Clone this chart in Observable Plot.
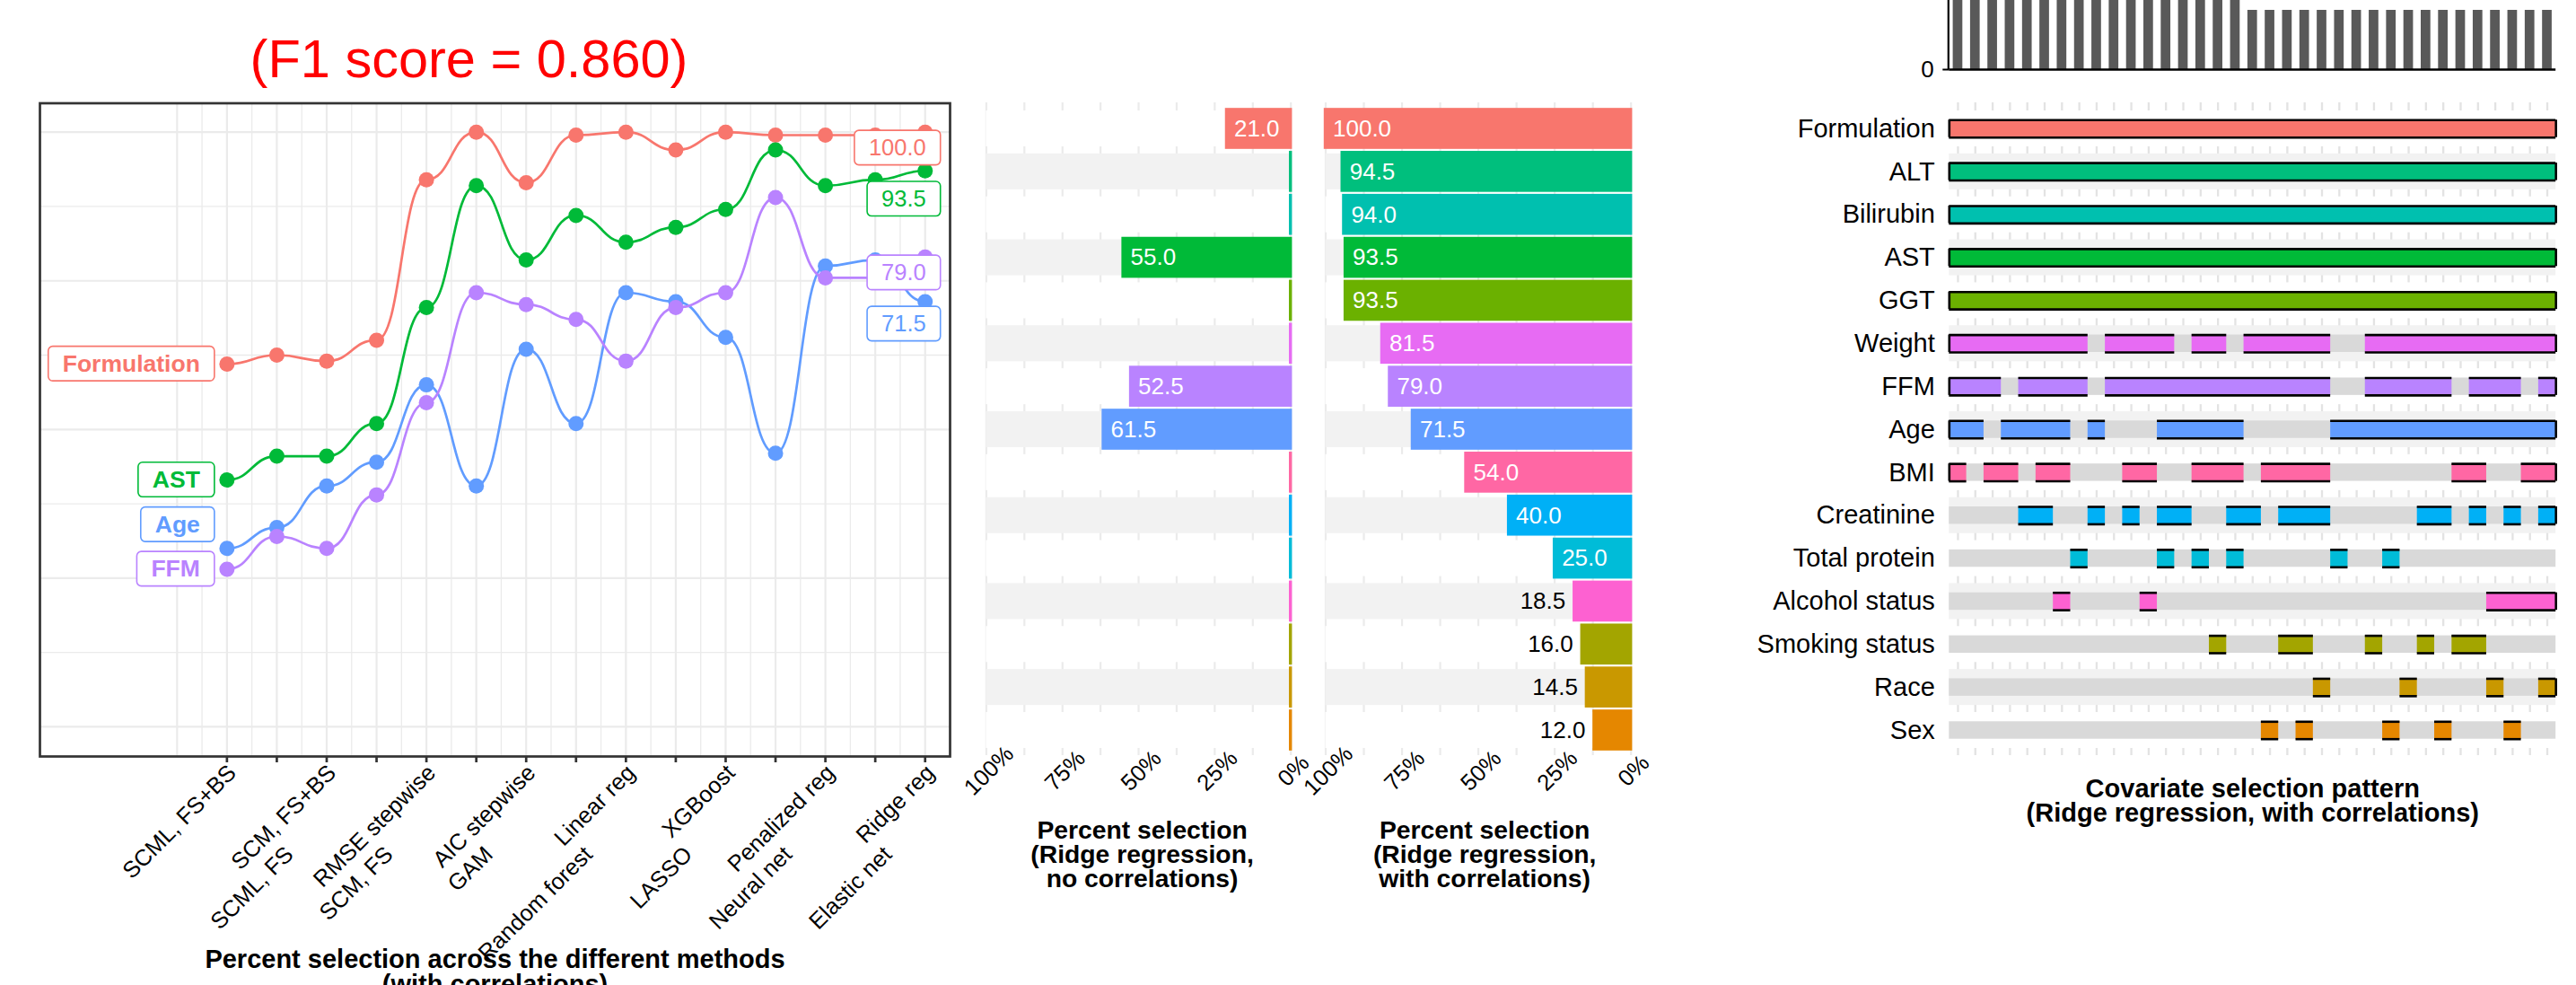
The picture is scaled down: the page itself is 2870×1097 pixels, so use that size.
<!DOCTYPE html>
<html>
<head>
<meta charset="utf-8">
<script src="https://cdn.jsdelivr.net/npm/d3@7"></script>
<script src="https://cdn.jsdelivr.net/npm/@observablehq/plot@0.6"></script>
<style>
  html, body { margin: 0; padding: 0; background: #fff; }
  #fig { position: relative; width: 2870px; height: 1097px; overflow: hidden; background: #fff; }
  #fig > div { position: absolute; top: 0; }
  #fig svg { overflow: visible; }
</style>
</head>
<body>
<div id="fig"></div>
<script>
const FONT = "'Liberation Sans', Arial, Helvetica, sans-serif";

// ---- Percent selection across methods (with correlations) ----
const methods = ["SCML, FS+BS", "SCML, FS", "SCM, FS+BS", "SCM, FS", "RMSE stepwise", "GAM",
  "AIC stepwise", "Random forest", "Linear reg", "LASSO", "XGBoost", "Neural net",
  "Penalized reg", "Elastic net", "Ridge reg"];
const selFormulation = [61.0, 62.5, 61.5, 65.0, 92.0, 100.0, 91.5, 99.5, 100.0, 97.0, 100.0, 99.5, 99.5, 99.5, 100.0];
const selAST         = [41.5, 45.5, 45.5, 51.0, 70.5, 91.0, 78.5, 86.0, 81.5, 84.0, 87.0, 97.0, 91.0, 92.0, 93.5];
const selAge         = [30.0, 33.5, 40.5, 44.5, 57.5, 40.5, 63.5, 51.0, 73.0, 71.5, 65.5, 46.0, 77.5, 78.5, 71.5];
const selFFM         = [26.5, 32.0, 30.0, 39.0, 54.5, 73.0, 71.0, 68.5, 61.5, 70.5, 73.0, 89.0, 75.5, 75.5, 79.0];
const f1Score = 0.860;

// ---- Ridge regression percent selection per covariate ----
const covariates = ["Formulation", "ALT", "Bilirubin", "AST", "GGT", "Weight", "FFM", "Age", "BMI",
  "Creatinine", "Total protein", "Alcohol status", "Smoking status", "Race", "Sex"];
const ridgeNoCorr   = [21.0, 0, 0, 55.0, 0, 0, 52.5, 61.5, 0, 0, 0, 0, 0, 0, 0];
const ridgeWithCorr = [100.0, 94.5, 94.0, 93.5, 93.5, 81.5, 79.0, 71.5, 54.0, 40.0, 25.0, 18.5, 16.0, 14.5, 12.0];

// ---- Covariate selection pattern: runs of selected patterns (1..35) per covariate ----
const patternRuns = [
  [[1, 35]],
  [[1, 35]],
  [[1, 35]],
  [[1, 35]],
  [[1, 35]],
  [[1, 8], [10, 13], [15, 16], [18, 22], [25, 35]],
  [[1, 3], [5, 8], [10, 22], [25, 29], [31, 33], [35, 35]],
  [[1, 2], [4, 7], [9, 9], [13, 17], [23, 35]],
  [[1, 1], [3, 4], [6, 7], [11, 12], [15, 17], [19, 22], [30, 31], [34, 35]],
  [[5, 6], [9, 9], [11, 11], [13, 14], [17, 18], [20, 22], [28, 29], [31, 31], [33, 33], [35, 35]],
  [[8, 8], [13, 13], [15, 15], [17, 17], [23, 23], [26, 26]],
  [[7, 7], [12, 12], [32, 35]],
  [[16, 16], [20, 21], [25, 25], [28, 28], [30, 31]],
  [[22, 22], [27, 27], [32, 32], [35, 35]],
  [[19, 19], [21, 21], [26, 26], [29, 29], [33, 33]]
];
// frequency of each of the 35 selection patterns
const patternCounts = [
  6, 6, 6, 6, 6, 6, 6, 6, 6, 6, 6, 6, 6, 6, 6, 6, 6,
  5, 5, 5, 5, 5, 5, 5, 5, 5, 5, 5, 5, 5, 5, 5, 5, 5, 5
];

// ggplot-style hue palette, one colour per covariate
const palette = ["#F8766D", "#00BF7D", "#00C0AF", "#00BA38", "#6BB100", "#E76BF3", "#B983FF", "#619CFF",
  "#FF67A4", "#00B0F6", "#00BCD8", "#FD61D1", "#A3A500", "#C99800", "#E58700"];
const colorOf = new Map(covariates.map((c, k) => [c, palette[k]]));

const fig = document.getElementById("fig");
function place(svg, left, top, width, height) {
  const div = document.createElement("div");
  div.style.left = left + "px";
  div.style.top = top + "px";
  div.style.width = width + "px";
  div.style.height = height + "px";
  div.appendChild(svg);
  fig.appendChild(div);
  return svg;
}
const baseStyle = {fontFamily: FONT, background: "transparent", overflow: "visible"};

// ===================== Line chart =====================
const lineSeries = [["Formulation", selFormulation], ["AST", selAST], ["Age", selAge], ["FFM", selFFM]];
const lineData = lineSeries.flatMap(([name, vals]) => vals.map((v, k) => ({name, i: k + 1, v})));

// keep end labels from overlapping: left ones pushed upward, right ones downward
const leftLab = lineSeries.map(([name, vals]) => ({name, v: vals[0]})).sort((a, b) => a.v - b.v);
let prev = -Infinity;
for (const d of leftLab) { d.ly = Math.max(d.v, prev + 7.48); prev = d.ly; }
const rightLab = lineSeries.map(([name, vals]) => ({name, v: vals[vals.length - 1]})).sort((a, b) => b.v - a.v);
prev = Infinity;
for (const d of rightLab) { d.ly = Math.min(d.v - 2.72, prev - 8.6); prev = d.ly; }

const methodRows = methods.map((name, k) => ({name, i: k + 1}));

const p1 = Plot.plot({
  width: 1080, height: 1097,
  marginLeft: 44, marginRight: 22, marginTop: 114.5, marginBottom: 255,
  x: {domain: [-2.75, 15.5], label: null},
  y: {domain: [-5.0, 104.86], axis: null},
  color: {domain: lineSeries.map(d => d[0]), range: lineSeries.map(d => colorOf.get(d[0]))},
  style: baseStyle,
  marks: [
    Plot.ruleY([12.5, 37.5, 62.5, 87.5], {stroke: "#EBEBEB", strokeWidth: 1.3}),
    Plot.ruleY([0, 25, 50, 75, 100], {stroke: "#EBEBEB", strokeWidth: 2.2}),
    Plot.ruleX(d3.range(0.5, 15, 1), {stroke: "#EBEBEB", strokeWidth: 1.3}),
    Plot.ruleX(d3.range(0, 16), {stroke: "#EBEBEB", strokeWidth: 2.2}),
    Plot.line(lineData, {x: "i", y: "v", z: "name", stroke: "name", curve: "bump-x", strokeWidth: 2.7}),
    Plot.dot(lineData, {x: "i", y: "v", fill: "name", r: 8.5}),
    Plot.text(leftLab, {x: 1, y: "ly", text: "name", fill: "name", textAnchor: "end", dx: -30,
      fontSize: 26.5, fontWeight: "bold"}),
    Plot.text(rightLab, {x: 15, y: "ly", text: d => d.v.toFixed(1), fill: "name", textAnchor: "end", dx: 1,
      fontSize: 25.5}),
    Plot.frame({stroke: "#333333", strokeWidth: 2.7}),
    Plot.axisX(d3.range(1, 16), {tickSize: 7, tickFormat: () => "", stroke: "#333333", strokeWidth: 2.7}),
    Plot.text(methodRows.filter(d => d.i % 2 === 1), {x: "i", text: "name", frameAnchor: "bottom",
      rotate: -45, textAnchor: "end", lineAnchor: "middle", dx: 6, dy: 14, fontSize: 25.5}),
    Plot.text(methodRows.filter(d => d.i % 2 === 0), {x: "i", text: "name", frameAnchor: "bottom",
      rotate: -45, textAnchor: "end", lineAnchor: "middle", dx: 14, dy: 105, fontSize: 25.5}),
    Plot.text(["Percent selection across the different methods\n(with correlations)"], {text: d => d,
      frameAnchor: "bottom", lineAnchor: "top", lineHeight: 0.95, dy: 216, fontSize: 29, fontWeight: "bold"}),
    Plot.text([`(F1 score = ${f1Score.toFixed(3)})`], {text: d => d, frameAnchor: "top", lineAnchor: "bottom",
      dx: -29, dy: -29.5, fontSize: 59.5, fill: "#FF0000"})
  ]
});
place(p1, 0, 0, 1080, 1097);

// rounded label boxes behind the end labels
const boxColor = new Map();
for (const d of leftLab) boxColor.set(d.name, colorOf.get(d.name));
for (const d of rightLab) boxColor.set(d.v.toFixed(1), colorOf.get(d.name));
for (const t of p1.querySelectorAll("text")) {
  const s = t.textContent;
  if (!boxColor.has(s)) continue;
  const b = t.getBBox();
  const h = 38.5, px = 16;
  const r = document.createElementNS("http://www.w3.org/2000/svg", "rect");
  r.setAttribute("x", b.x - px);
  r.setAttribute("width", b.width + 2 * px);
  r.setAttribute("y", b.y + b.height / 2 - h / 2);
  r.setAttribute("height", h);
  r.setAttribute("rx", 5);
  r.setAttribute("fill", "white");
  r.setAttribute("stroke", boxColor.get(s));
  r.setAttribute("stroke-width", 1.6);
  if (t.getAttribute("transform")) r.setAttribute("transform", t.getAttribute("transform"));
  t.parentNode.insertBefore(r, t);
}

// ===================== Bar panels =====================
const Y_DOMAIN = [0.394, 15.585];
function selectionBars(values, title, left, width, marginLeft, marginRight, titleDx) {
  const rows = covariates.map((name, k) => ({name, i: k + 1, v: values[k]}));
  const svg = Plot.plot({
    width, height: 1097, marginLeft, marginRight, marginTop: 114, marginBottom: 256,
    x: {domain: [100, 0], axis: null},
    y: {domain: Y_DOMAIN, reverse: true, axis: null},
    color: {domain: covariates, range: palette},
    style: baseStyle,
    marks: [
      Plot.ruleX(d3.range(0, 100.1, 12.5), {stroke: "#EBEBEB", strokeWidth: 2.2}),
      Plot.rect(rows.filter(d => d.i % 2 === 1), {x1: 100, x2: 0, y1: d => d.i - 0.418, y2: d => d.i + 0.418, fill: "white"}),
      Plot.rect(rows.filter(d => d.i % 2 === 0), {x1: 100, x2: 0, y1: d => d.i - 0.418, y2: d => d.i + 0.418, fill: "#F2F2F2"}),
      Plot.rect(rows, {x1: 0, x2: "v", y1: d => d.i - 0.477, y2: d => d.i + 0.477, fill: "name",
        insetLeft: -1.7, insetRight: -1.7}),
      Plot.text(rows.filter(d => d.v >= 20), {x: "v", y: "i", text: d => d.v.toFixed(1), textAnchor: "start",
        dx: 8, fill: "white", fontSize: 26}),
      Plot.text(rows.filter(d => d.v > 0 && d.v < 20), {x: "v", y: "i", text: d => d.v.toFixed(1), textAnchor: "end",
        dx: -10, fill: "black", fontSize: 26}),
      Plot.text([100, 75, 50, 25, 0], {x: d => d, text: d => d + "%", frameAnchor: "bottom", rotate: -45,
        textAnchor: "middle", lineAnchor: "middle", dx: 3, dy: 17, fontSize: 25.5}),
      Plot.text([title], {text: d => d, frameAnchor: "bottom", lineAnchor: "middle", lineHeight: 0.955,
        dx: titleDx, dy: 110.4, fontSize: 28.3, fontWeight: "bold"})
    ]
  });
  return place(svg, left, 0, width, 1097);
}
selectionBars(ridgeNoCorr, "Percent selection\n(Ridge regression,\nno correlations)", 1040, 420, 58.4, 22.3, 4);
selectionBars(ridgeWithCorr, "Percent selection\n(Ridge regression,\nwith correlations)", 1440, 440, 36.5, 63.3, 7);

// ===================== Covariate selection pattern =====================
const nPat = patternCounts.length;
const countRows = patternCounts.map((c, k) => ({k: k + 1, c}));
const p4 = Plot.plot({
  width: 770, height: 92, marginLeft: 71.3, marginRight: 22.8, marginTop: 0, marginBottom: 15,
  x: {domain: [0.5, nPat + 0.5], axis: null},
  y: {domain: [0, 5.833], label: null},
  style: {fontFamily: FONT, background: "transparent"},
  marks: [
    Plot.rect(countRows, {x1: d => d.k - 0.5, x2: d => d.k + 0.5, y1: 0, y2: "c", fill: "#595959",
      insetLeft: 4.3, insetRight: 4.3}),
    Plot.ruleX([0.5], {stroke: "black", strokeWidth: 2.2, dx: -1}),
    Plot.ruleY([0], {stroke: "black", strokeWidth: 2.5}),
    Plot.axisY([0], {tickSize: 7, tickPadding: 10, fontSize: 26, strokeWidth: 2, label: null})
  ]
});
place(p4, 2100, 0, 770, 92);

const patRows = covariates.map((name, k) => ({name, i: k + 1}));
const runs = patternRuns.flatMap((rs, k) => rs.map(([a, b]) => ({name: covariates[k], i: k + 1, a, b})));
const half = 0.2027;
const p5 = Plot.plot({
  width: 970, height: 1097, marginLeft: 271.3, marginRight: 22.8, marginTop: 114, marginBottom: 256,
  x: {domain: [0.5, nPat + 0.5], axis: null},
  y: {domain: Y_DOMAIN, reverse: true, axis: null},
  color: {domain: covariates, range: palette},
  style: baseStyle,
  marks: [
    Plot.ruleX(d3.range(1, nPat + 1), {stroke: "#E3E3E3", strokeWidth: 2.3}),
    Plot.rect(patRows.filter(d => d.i % 2 === 1), {x1: 0.5, x2: nPat + 0.5, y1: d => d.i - 0.418, y2: d => d.i + 0.418, fill: "white"}),
    Plot.rect(patRows.filter(d => d.i % 2 === 0), {x1: 0.5, x2: nPat + 0.5, y1: d => d.i - 0.418, y2: d => d.i + 0.418, fill: "#F2F2F2"}),
    Plot.rect(patRows, {x1: 0.5, x2: nPat + 0.5, y1: d => d.i - half, y2: d => d.i + half, fill: "#D9D9D9"}),
    Plot.rect(runs, {x1: d => d.a - 0.5, x2: d => d.b + 0.5, y1: d => d.i - half, y2: d => d.i + half, fill: "name"}),
    Plot.ruleY(runs, {y: d => d.i - half, x1: d => d.a - 0.5, x2: d => d.b + 0.5, stroke: "black", strokeWidth: 2.6}),
    Plot.ruleY(runs, {y: d => d.i + half, x1: d => d.a - 0.5, x2: d => d.b + 0.5, stroke: "black", strokeWidth: 2.6}),
    Plot.ruleX(runs.filter(d => d.a === 1), {x: 0.5, y1: d => d.i - half, y2: d => d.i + half, stroke: "black", strokeWidth: 2.6}),
    Plot.ruleX(runs.filter(d => d.b === nPat), {x: nPat + 0.5, y1: d => d.i - half, y2: d => d.i + half, stroke: "black", strokeWidth: 2.6}),
    Plot.text(patRows, {y: "i", text: "name", frameAnchor: "left", textAnchor: "end", dx: -16, fontSize: 29}),
    Plot.text(["Covariate selection pattern\n(Ridge regression, with correlations)"], {text: d => d,
      frameAnchor: "bottom", lineAnchor: "top", lineHeight: 0.95, dy: 26.5, fontSize: 29, fontWeight: "bold"})
  ]
});
place(p5, 1900, 0, 970, 1097);
</script>
</body>
</html>
